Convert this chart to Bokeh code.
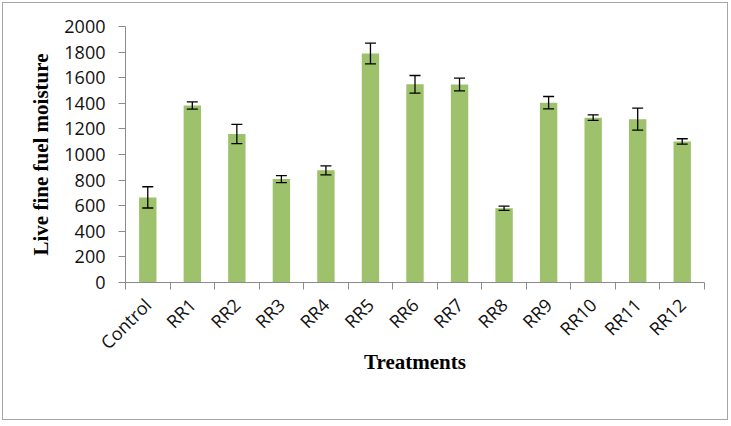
import math
from bokeh.plotting import figure
from bokeh.models import ColumnDataSource, Range1d, FixedTicker, Whisker, TeeHead
from bokeh.embed import file_html
from bokeh.resources import INLINE

categories = ["Control", "RR1", "RR2", "RR3", "RR4", "RR5", "RR6",
              "RR7", "RR8", "RR9", "RR10", "RR11", "RR12"]
moisture = [665, 1383, 1160, 808, 876, 1789, 1548, 1547, 580, 1405, 1288, 1276, 1102]
errors = [83, 28, 75, 27, 35, 81, 69, 50, 16, 48, 22, 86, 21]
y_ticks = [0, 200, 400, 600, 800, 1000, 1200, 1400, 1600, 1800, 2000]

xs = [i + 0.5 for i in range(len(categories))]
src = ColumnDataSource(dict(
    x=xs, top=moisture,
    upper=[m + e for m, e in zip(moisture, errors)],
    lower=[m - e for m, e in zip(moisture, errors)],
))

p = figure(width=726, height=418, output_backend="svg", toolbar_location=None,
           x_range=Range1d(0, len(categories)), y_range=Range1d(0, 2000),
           min_border_left=122, min_border_right=25, min_border_top=23,
           min_border_bottom=139)
p.styles = {"border": "1px solid #a6a6a6", "box-sizing": "border-box",
            "margin": "2px 0 0 2px"}
p.outline_line_color = None
p.xgrid.visible = False
p.ygrid.visible = False

p.vbar(x="x", top="top", width=0.39, source=src, fill_color="#9dc26b",
       line_color=None)
w = Whisker(base="x", upper="upper", lower="lower", source=src,
            line_color="black", line_width=1.3, level="overlay",
            upper_head=TeeHead(size=11, line_color="black", line_width=1.3),
            lower_head=TeeHead(size=11, line_color="black", line_width=1.3))
p.add_layout(w)

axis_col = "#8c8c8c"
xa = p.xaxis[0]
xa.ticker = FixedTicker(ticks=xs, minor_ticks=list(range(len(categories) + 1)))
xa.major_label_overrides = {x: c for x, c in zip(xs, categories)}
xa.major_label_orientation = math.pi / 4
xa.major_tick_out = 0
xa.major_tick_in = 0
xa.minor_tick_out = 7
xa.minor_tick_in = 0
xa.minor_tick_line_color = axis_col
xa.axis_line_color = axis_col
xa.major_label_text_font = "Open Sans"
xa.major_label_text_font_size = "18px"
xa.major_label_text_color = "#111111"
xa.major_label_standoff = 12
xa.axis_label = "Treatments"
xa.axis_label_text_font = "Liberation Serif"
xa.axis_label_text_font_style = "bold"
xa.axis_label_text_font_size = "21px"
xa.axis_label_text_color = "black"
xa.axis_label_standoff = -16

ya = p.yaxis[0]
ya.ticker = FixedTicker(ticks=y_ticks, minor_ticks=[])
ya.major_tick_out = 7
ya.major_tick_in = 0
ya.major_tick_line_color = axis_col
ya.axis_line_color = axis_col
ya.major_label_text_font = "Open Sans"
ya.major_label_text_font_size = "18px"
ya.major_label_text_color = "#111111"
ya.major_label_standoff = 13
ya.axis_label = "Live fine fuel moisture"
ya.axis_label_text_font = "Liberation Serif"
ya.axis_label_text_font_style = "bold"
ya.axis_label_text_font_size = "21px"
ya.axis_label_text_color = "black"
ya.axis_label_standoff = 8

open("out.html", "w").write(file_html(p, INLINE))
